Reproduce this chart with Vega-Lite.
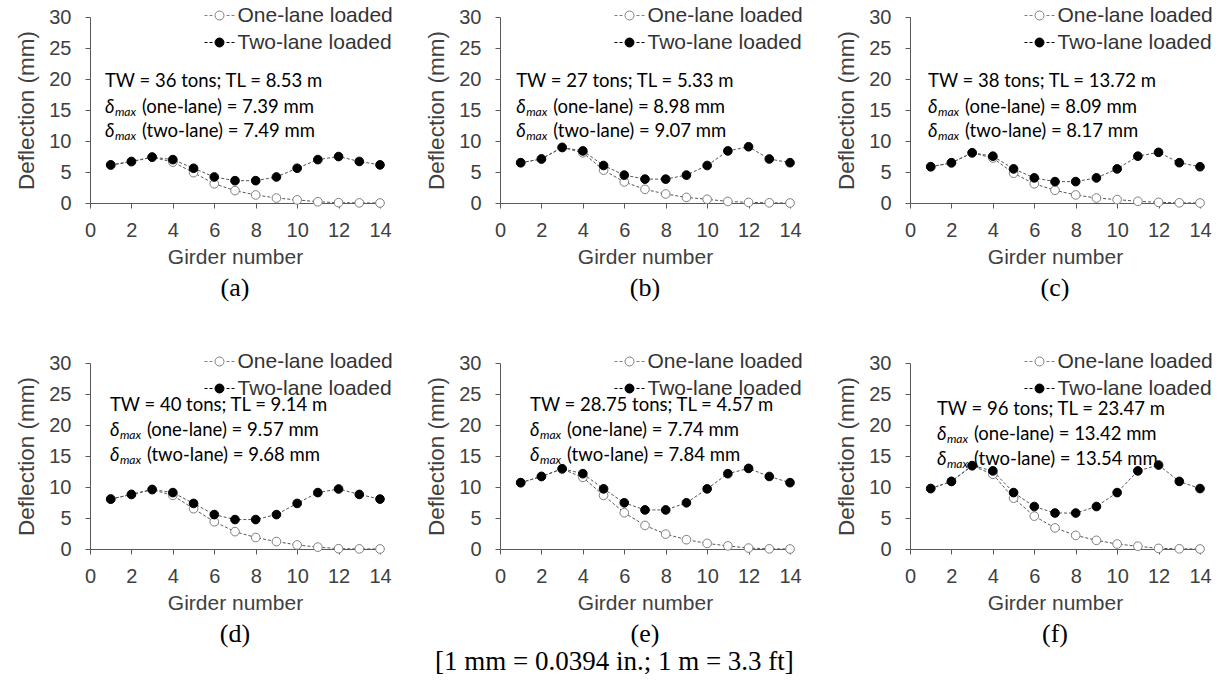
{
  "$schema": "https://vega.github.io/schema/vega-lite/v6.json",
  "background": "white",
  "padding": {"left": 15, "top": 5, "right": 5, "bottom": 5},
  "config": {
    "view": {"stroke": null},
    "axis": {"labelFont": "Liberation Sans", "labelFontSize": 20, "labelColor": "#404040", "titleFont": "Liberation Sans", "titleFontSize": 21, "titleFontWeight": "normal", "titleColor": "#404040", "domainColor": "#595959", "tickColor": "#595959", "tickSize": 5, "grid": false, "labelOverlap": false, "labelFlush": false, "labelBound": false},
    "axisX": {"labelPadding": 12, "titlePadding": 6, "tickCount": 8, "labelOverlap": false},
    "axisY": {"labelPadding": 14, "titlePadding": 10, "titleFontSize": 22.5, "tickCount": 7, "labelOverlap": false},
    "title": {"font": "Liberation Serif", "fontSize": 26, "fontWeight": "normal", "color": "black", "orient": "bottom", "offset": 8},
    "legend": {"title": null, "orient": "none", "legendX": 119, "legendY": -12, "symbolType": "M-1.5,0H-1.2M-1,0H-0.7M0.7,0H1M1.2,0H1.5M0.45,0A0.45,0.45,0,1,1,-0.45,0A0.45,0.45,0,1,1,0.45,0Z", "symbolSize": 400, "symbolStrokeWidth": 1, "labelFont": "Liberation Sans", "labelFontSize": 21, "labelColor": "#333333", "labelOffset": 7.5, "rowPadding": 5, "padding": 0}
  },
  "title": {"text": "[1 mm = 0.0394 in.; 1 m = 3.3 ft]", "orient": "bottom", "anchor": "middle", "font": "Liberation Serif", "fontSize": 27, "offset": 2},
  "datasets": {
    "pts": [
      {"panel":"a","series":"One-lane loaded","girder":1,"deflection":6.1},{"panel":"a","series":"One-lane loaded","girder":2,"deflection":6.65},{"panel":"a","series":"One-lane loaded","girder":3,"deflection":7.39},{"panel":"a","series":"One-lane loaded","girder":4,"deflection":6.6},{"panel":"a","series":"One-lane loaded","girder":5,"deflection":4.9},{"panel":"a","series":"One-lane loaded","girder":6,"deflection":3.1},{"panel":"a","series":"One-lane loaded","girder":7,"deflection":2.0},{"panel":"a","series":"One-lane loaded","girder":8,"deflection":1.3},{"panel":"a","series":"One-lane loaded","girder":9,"deflection":0.8},{"panel":"a","series":"One-lane loaded","girder":10,"deflection":0.5},{"panel":"a","series":"One-lane loaded","girder":11,"deflection":0.2},{"panel":"a","series":"One-lane loaded","girder":12,"deflection":0.05},{"panel":"a","series":"One-lane loaded","girder":13,"deflection":0.02},{"panel":"a","series":"One-lane loaded","girder":14,"deflection":0},
      {"panel":"a","series":"Two-lane loaded","girder":1,"deflection":6.15},{"panel":"a","series":"Two-lane loaded","girder":2,"deflection":6.7},{"panel":"a","series":"Two-lane loaded","girder":3,"deflection":7.4},{"panel":"a","series":"Two-lane loaded","girder":4,"deflection":7.0},{"panel":"a","series":"Two-lane loaded","girder":5,"deflection":5.6},{"panel":"a","series":"Two-lane loaded","girder":6,"deflection":4.2},{"panel":"a","series":"Two-lane loaded","girder":7,"deflection":3.6},{"panel":"a","series":"Two-lane loaded","girder":8,"deflection":3.6},{"panel":"a","series":"Two-lane loaded","girder":9,"deflection":4.2},{"panel":"a","series":"Two-lane loaded","girder":10,"deflection":5.6},{"panel":"a","series":"Two-lane loaded","girder":11,"deflection":7.0},{"panel":"a","series":"Two-lane loaded","girder":12,"deflection":7.49},{"panel":"a","series":"Two-lane loaded","girder":13,"deflection":6.7},{"panel":"a","series":"Two-lane loaded","girder":14,"deflection":6.15},
      {"panel":"b","series":"One-lane loaded","girder":1,"deflection":6.5},{"panel":"b","series":"One-lane loaded","girder":2,"deflection":7.1},{"panel":"b","series":"One-lane loaded","girder":3,"deflection":8.98},{"panel":"b","series":"One-lane loaded","girder":4,"deflection":8.1},{"panel":"b","series":"One-lane loaded","girder":5,"deflection":5.3},{"panel":"b","series":"One-lane loaded","girder":6,"deflection":3.4},{"panel":"b","series":"One-lane loaded","girder":7,"deflection":2.2},{"panel":"b","series":"One-lane loaded","girder":8,"deflection":1.45},{"panel":"b","series":"One-lane loaded","girder":9,"deflection":0.9},{"panel":"b","series":"One-lane loaded","girder":10,"deflection":0.6},{"panel":"b","series":"One-lane loaded","girder":11,"deflection":0.25},{"panel":"b","series":"One-lane loaded","girder":12,"deflection":0.1},{"panel":"b","series":"One-lane loaded","girder":13,"deflection":0.03},{"panel":"b","series":"One-lane loaded","girder":14,"deflection":0},
      {"panel":"b","series":"Two-lane loaded","girder":1,"deflection":6.5},{"panel":"b","series":"Two-lane loaded","girder":2,"deflection":7.1},{"panel":"b","series":"Two-lane loaded","girder":3,"deflection":8.95},{"panel":"b","series":"Two-lane loaded","girder":4,"deflection":8.4},{"panel":"b","series":"Two-lane loaded","girder":5,"deflection":6.05},{"panel":"b","series":"Two-lane loaded","girder":6,"deflection":4.5},{"panel":"b","series":"Two-lane loaded","girder":7,"deflection":3.85},{"panel":"b","series":"Two-lane loaded","girder":8,"deflection":3.85},{"panel":"b","series":"Two-lane loaded","girder":9,"deflection":4.5},{"panel":"b","series":"Two-lane loaded","girder":10,"deflection":6.05},{"panel":"b","series":"Two-lane loaded","girder":11,"deflection":8.4},{"panel":"b","series":"Two-lane loaded","girder":12,"deflection":9.07},{"panel":"b","series":"Two-lane loaded","girder":13,"deflection":7.1},{"panel":"b","series":"Two-lane loaded","girder":14,"deflection":6.5},
      {"panel":"c","series":"One-lane loaded","girder":1,"deflection":5.85},{"panel":"c","series":"One-lane loaded","girder":2,"deflection":6.45},{"panel":"c","series":"One-lane loaded","girder":3,"deflection":8.09},{"panel":"c","series":"One-lane loaded","girder":4,"deflection":7.25},{"panel":"c","series":"One-lane loaded","girder":5,"deflection":4.8},{"panel":"c","series":"One-lane loaded","girder":6,"deflection":3.1},{"panel":"c","series":"One-lane loaded","girder":7,"deflection":2.05},{"panel":"c","series":"One-lane loaded","girder":8,"deflection":1.3},{"panel":"c","series":"One-lane loaded","girder":9,"deflection":0.8},{"panel":"c","series":"One-lane loaded","girder":10,"deflection":0.55},{"panel":"c","series":"One-lane loaded","girder":11,"deflection":0.27},{"panel":"c","series":"One-lane loaded","girder":12,"deflection":0.1},{"panel":"c","series":"One-lane loaded","girder":13,"deflection":0.03},{"panel":"c","series":"One-lane loaded","girder":14,"deflection":0},
      {"panel":"c","series":"Two-lane loaded","girder":1,"deflection":5.85},{"panel":"c","series":"Two-lane loaded","girder":2,"deflection":6.5},{"panel":"c","series":"Two-lane loaded","girder":3,"deflection":8.1},{"panel":"c","series":"Two-lane loaded","girder":4,"deflection":7.55},{"panel":"c","series":"Two-lane loaded","girder":5,"deflection":5.5},{"panel":"c","series":"Two-lane loaded","girder":6,"deflection":4.05},{"panel":"c","series":"Two-lane loaded","girder":7,"deflection":3.45},{"panel":"c","series":"Two-lane loaded","girder":8,"deflection":3.45},{"panel":"c","series":"Two-lane loaded","girder":9,"deflection":4.05},{"panel":"c","series":"Two-lane loaded","girder":10,"deflection":5.5},{"panel":"c","series":"Two-lane loaded","girder":11,"deflection":7.55},{"panel":"c","series":"Two-lane loaded","girder":12,"deflection":8.17},{"panel":"c","series":"Two-lane loaded","girder":13,"deflection":6.5},{"panel":"c","series":"Two-lane loaded","girder":14,"deflection":5.85},
      {"panel":"d","series":"One-lane loaded","girder":1,"deflection":8.05},{"panel":"d","series":"One-lane loaded","girder":2,"deflection":8.8},{"panel":"d","series":"One-lane loaded","girder":3,"deflection":9.57},{"panel":"d","series":"One-lane loaded","girder":4,"deflection":8.65},{"panel":"d","series":"One-lane loaded","girder":5,"deflection":6.5},{"panel":"d","series":"One-lane loaded","girder":6,"deflection":4.4},{"panel":"d","series":"One-lane loaded","girder":7,"deflection":2.8},{"panel":"d","series":"One-lane loaded","girder":8,"deflection":1.85},{"panel":"d","series":"One-lane loaded","girder":9,"deflection":1.2},{"panel":"d","series":"One-lane loaded","girder":10,"deflection":0.65},{"panel":"d","series":"One-lane loaded","girder":11,"deflection":0.3},{"panel":"d","series":"One-lane loaded","girder":12,"deflection":0.05},{"panel":"d","series":"One-lane loaded","girder":13,"deflection":0.02},{"panel":"d","series":"One-lane loaded","girder":14,"deflection":0},
      {"panel":"d","series":"Two-lane loaded","girder":1,"deflection":8.05},{"panel":"d","series":"Two-lane loaded","girder":2,"deflection":8.8},{"panel":"d","series":"Two-lane loaded","girder":3,"deflection":9.6},{"panel":"d","series":"Two-lane loaded","girder":4,"deflection":9.1},{"panel":"d","series":"Two-lane loaded","girder":5,"deflection":7.35},{"panel":"d","series":"Two-lane loaded","girder":6,"deflection":5.55},{"panel":"d","series":"Two-lane loaded","girder":7,"deflection":4.75},{"panel":"d","series":"Two-lane loaded","girder":8,"deflection":4.75},{"panel":"d","series":"Two-lane loaded","girder":9,"deflection":5.55},{"panel":"d","series":"Two-lane loaded","girder":10,"deflection":7.35},{"panel":"d","series":"Two-lane loaded","girder":11,"deflection":9.1},{"panel":"d","series":"Two-lane loaded","girder":12,"deflection":9.68},{"panel":"d","series":"Two-lane loaded","girder":13,"deflection":8.8},{"panel":"d","series":"Two-lane loaded","girder":14,"deflection":8.05},
      {"panel":"e","series":"One-lane loaded","girder":1,"deflection":10.7},{"panel":"e","series":"One-lane loaded","girder":2,"deflection":11.7},{"panel":"e","series":"One-lane loaded","girder":3,"deflection":12.9},{"panel":"e","series":"One-lane loaded","girder":4,"deflection":11.55},{"panel":"e","series":"One-lane loaded","girder":5,"deflection":8.65},{"panel":"e","series":"One-lane loaded","girder":6,"deflection":5.85},{"panel":"e","series":"One-lane loaded","girder":7,"deflection":3.8},{"panel":"e","series":"One-lane loaded","girder":8,"deflection":2.4},{"panel":"e","series":"One-lane loaded","girder":9,"deflection":1.5},{"panel":"e","series":"One-lane loaded","girder":10,"deflection":0.9},{"panel":"e","series":"One-lane loaded","girder":11,"deflection":0.5},{"panel":"e","series":"One-lane loaded","girder":12,"deflection":0.15},{"panel":"e","series":"One-lane loaded","girder":13,"deflection":0.03},{"panel":"e","series":"One-lane loaded","girder":14,"deflection":0},
      {"panel":"e","series":"Two-lane loaded","girder":1,"deflection":10.7},{"panel":"e","series":"Two-lane loaded","girder":2,"deflection":11.7},{"panel":"e","series":"Two-lane loaded","girder":3,"deflection":12.95},{"panel":"e","series":"Two-lane loaded","girder":4,"deflection":12.15},{"panel":"e","series":"Two-lane loaded","girder":5,"deflection":9.7},{"panel":"e","series":"Two-lane loaded","girder":6,"deflection":7.45},{"panel":"e","series":"Two-lane loaded","girder":7,"deflection":6.3},{"panel":"e","series":"Two-lane loaded","girder":8,"deflection":6.3},{"panel":"e","series":"Two-lane loaded","girder":9,"deflection":7.45},{"panel":"e","series":"Two-lane loaded","girder":10,"deflection":9.7},{"panel":"e","series":"Two-lane loaded","girder":11,"deflection":12.15},{"panel":"e","series":"Two-lane loaded","girder":12,"deflection":13.0},{"panel":"e","series":"Two-lane loaded","girder":13,"deflection":11.7},{"panel":"e","series":"Two-lane loaded","girder":14,"deflection":10.7},
      {"panel":"f","series":"One-lane loaded","girder":1,"deflection":9.75},{"panel":"f","series":"One-lane loaded","girder":2,"deflection":10.9},{"panel":"f","series":"One-lane loaded","girder":3,"deflection":13.42},{"panel":"f","series":"One-lane loaded","girder":4,"deflection":12.05},{"panel":"f","series":"One-lane loaded","girder":5,"deflection":8.2},{"panel":"f","series":"One-lane loaded","girder":6,"deflection":5.3},{"panel":"f","series":"One-lane loaded","girder":7,"deflection":3.4},{"panel":"f","series":"One-lane loaded","girder":8,"deflection":2.2},{"panel":"f","series":"One-lane loaded","girder":9,"deflection":1.4},{"panel":"f","series":"One-lane loaded","girder":10,"deflection":0.8},{"panel":"f","series":"One-lane loaded","girder":11,"deflection":0.45},{"panel":"f","series":"One-lane loaded","girder":12,"deflection":0.1},{"panel":"f","series":"One-lane loaded","girder":13,"deflection":0.03},{"panel":"f","series":"One-lane loaded","girder":14,"deflection":0},
      {"panel":"f","series":"Two-lane loaded","girder":1,"deflection":9.75},{"panel":"f","series":"Two-lane loaded","girder":2,"deflection":10.9},{"panel":"f","series":"Two-lane loaded","girder":3,"deflection":13.45},{"panel":"f","series":"Two-lane loaded","girder":4,"deflection":12.6},{"panel":"f","series":"Two-lane loaded","girder":5,"deflection":9.1},{"panel":"f","series":"Two-lane loaded","girder":6,"deflection":6.85},{"panel":"f","series":"Two-lane loaded","girder":7,"deflection":5.8},{"panel":"f","series":"Two-lane loaded","girder":8,"deflection":5.8},{"panel":"f","series":"Two-lane loaded","girder":9,"deflection":6.85},{"panel":"f","series":"Two-lane loaded","girder":10,"deflection":9.1},{"panel":"f","series":"Two-lane loaded","girder":11,"deflection":12.6},{"panel":"f","series":"Two-lane loaded","girder":12,"deflection":13.54},{"panel":"f","series":"Two-lane loaded","girder":13,"deflection":10.9},{"panel":"f","series":"Two-lane loaded","girder":14,"deflection":9.75}
    ],
    "notes": [
      {"panel":"a","l1":"TW = 36 tons; TL = 8.53 m","l23":["(one-lane) = 7.39 mm","(two-lane) = 7.49 mm"]},
      {"panel":"b","l1":"TW = 27 tons; TL = 5.33 m","l23":["(one-lane) = 8.98 mm","(two-lane) = 9.07 mm"]},
      {"panel":"c","l1":"TW = 38 tons; TL = 13.72 m","l23":["(one-lane) = 8.09 mm","(two-lane) = 8.17 mm"]},
      {"panel":"d","l1":"TW = 40 tons; TL = 9.14 m","l23":["(one-lane) = 9.57 mm","(two-lane) = 9.68 mm"]},
      {"panel":"e","l1":"TW = 28.75 tons; TL = 4.57 m","l23":["(one-lane) = 7.74 mm","(two-lane) = 7.84 mm"]},
      {"panel":"f","l1":"TW = 96 tons; TL = 23.47 m","l23":["(one-lane) = 13.42 mm","(two-lane) = 13.54 mm"]}
    ]
  },
  "columns": 3,
  "spacing": {"row": 160, "column": 120},
  "bounds": "flush",
  "resolve": {"scale": {"fill": "independent", "stroke": "independent"}, "legend": {"fill": "independent", "stroke": "independent"}},
  "concat": [
    {"width": 290, "height": 186, "title": {"text": "(a)", "orient": "bottom"},
     "layer": [
      {"data": {"name": "pts"}, "transform": [{"filter": "datum.panel === 'a'"}], "mark": {"type": "line", "strokeDash": [3, 2], "strokeWidth": 1, "color": "#555555"},
       "encoding": {"x": {"field": "girder", "type": "quantitative", "title": "Girder number", "scale": {"domain": [0, 14], "nice": false}, "axis": {"values": [0, 2, 4, 6, 8, 10, 12, 14], "tickCount": 8, "labelOverlap": false}}, "y": {"field": "deflection", "type": "quantitative", "title": "Deflection (mm)", "scale": {"domain": [0, 30], "nice": false}, "axis": {"values": [0, 5, 10, 15, 20, 25, 30], "tickCount": 7, "labelOverlap": false}}, "detail": {"field": "series", "type": "nominal"}}},
      {"data": {"name": "pts"}, "transform": [{"filter": "datum.panel === 'a'"}], "mark": {"type": "point", "shape": "circle", "filled": true, "size": 75, "strokeWidth": 1, "opacity": 1},
       "encoding": {"x": {"field": "girder", "type": "quantitative"}, "y": {"field": "deflection", "type": "quantitative"},
        "fill": {"field": "series", "type": "nominal", "scale": {"domain": ["One-lane loaded", "Two-lane loaded"], "range": ["white", "black"]}, "legend": {"orient": "none", "legendX": 119, "legendY": -12}},
        "stroke": {"field": "series", "type": "nominal", "scale": {"domain": ["One-lane loaded", "Two-lane loaded"], "range": ["#7f7f7f", "black"]}, "legend": {"orient": "none", "legendX": 119, "legendY": -12}}}},
      {"data": {"name": "notes"}, "transform": [{"filter": "datum.panel === 'a'"}], "mark": {"type": "text", "font": "Lato", "fontSize": 18.5, "align": "left", "baseline": "alphabetic", "color": "black"},
       "encoding": {"x": {"datum": 0.72, "type": "quantitative"}, "y": {"datum": 18.7, "type": "quantitative"}, "text": {"field": "l1", "type": "nominal"}}},
      {"data": {"name": "notes"}, "transform": [{"filter": "datum.panel === 'a'"}], "mark": {"type": "text", "text": ["δ", "δ"], "lineHeight": 24, "font": "Lato", "fontStyle": "italic", "fontSize": 18.5, "align": "left", "baseline": "alphabetic", "color": "black"},
       "encoding": {"x": {"datum": 0.72, "type": "quantitative"}, "y": {"datum": 14.5, "type": "quantitative"}}},
      {"data": {"name": "notes"}, "transform": [{"filter": "datum.panel === 'a'"}], "mark": {"type": "text", "text": ["max", "max"], "lineHeight": 24, "font": "Lato", "fontStyle": "italic", "fontSize": 12, "dx": 10, "dy": 3, "align": "left", "baseline": "alphabetic", "color": "black"},
       "encoding": {"x": {"datum": 0.72, "type": "quantitative"}, "y": {"datum": 14.5, "type": "quantitative"}}},
      {"data": {"name": "notes"}, "transform": [{"filter": "datum.panel === 'a'"}], "mark": {"type": "text", "lineHeight": 24, "font": "Lato", "fontSize": 18.5, "dx": 37, "align": "left", "baseline": "alphabetic", "color": "black"},
       "encoding": {"x": {"datum": 0.72, "type": "quantitative"}, "y": {"datum": 14.5, "type": "quantitative"}, "text": {"field": "l23", "type": "nominal"}}}
     ]},
    {"width": 290, "height": 186, "title": {"text": "(b)", "orient": "bottom"},
     "layer": [
      {"data": {"name": "pts"}, "transform": [{"filter": "datum.panel === 'b'"}], "mark": {"type": "line", "strokeDash": [3, 2], "strokeWidth": 1, "color": "#555555"},
       "encoding": {"x": {"field": "girder", "type": "quantitative", "title": "Girder number", "scale": {"domain": [0, 14], "nice": false}, "axis": {"values": [0, 2, 4, 6, 8, 10, 12, 14], "tickCount": 8, "labelOverlap": false}}, "y": {"field": "deflection", "type": "quantitative", "title": "Deflection (mm)", "scale": {"domain": [0, 30], "nice": false}, "axis": {"values": [0, 5, 10, 15, 20, 25, 30], "tickCount": 7, "labelOverlap": false}}, "detail": {"field": "series", "type": "nominal"}}},
      {"data": {"name": "pts"}, "transform": [{"filter": "datum.panel === 'b'"}], "mark": {"type": "point", "shape": "circle", "filled": true, "size": 75, "strokeWidth": 1, "opacity": 1},
       "encoding": {"x": {"field": "girder", "type": "quantitative"}, "y": {"field": "deflection", "type": "quantitative"},
        "fill": {"field": "series", "type": "nominal", "scale": {"domain": ["One-lane loaded", "Two-lane loaded"], "range": ["white", "black"]}, "legend": {"orient": "none", "legendX": 119, "legendY": -12}},
        "stroke": {"field": "series", "type": "nominal", "scale": {"domain": ["One-lane loaded", "Two-lane loaded"], "range": ["#7f7f7f", "black"]}, "legend": {"orient": "none", "legendX": 119, "legendY": -12}}}},
      {"data": {"name": "notes"}, "transform": [{"filter": "datum.panel === 'b'"}], "mark": {"type": "text", "font": "Lato", "fontSize": 18.5, "align": "left", "baseline": "alphabetic", "color": "black"},
       "encoding": {"x": {"datum": 0.78, "type": "quantitative"}, "y": {"datum": 18.7, "type": "quantitative"}, "text": {"field": "l1", "type": "nominal"}}},
      {"data": {"name": "notes"}, "transform": [{"filter": "datum.panel === 'b'"}], "mark": {"type": "text", "text": ["δ", "δ"], "lineHeight": 24, "font": "Lato", "fontStyle": "italic", "fontSize": 18.5, "align": "left", "baseline": "alphabetic", "color": "black"},
       "encoding": {"x": {"datum": 0.78, "type": "quantitative"}, "y": {"datum": 14.5, "type": "quantitative"}}},
      {"data": {"name": "notes"}, "transform": [{"filter": "datum.panel === 'b'"}], "mark": {"type": "text", "text": ["max", "max"], "lineHeight": 24, "font": "Lato", "fontStyle": "italic", "fontSize": 12, "dx": 10, "dy": 3, "align": "left", "baseline": "alphabetic", "color": "black"},
       "encoding": {"x": {"datum": 0.78, "type": "quantitative"}, "y": {"datum": 14.5, "type": "quantitative"}}},
      {"data": {"name": "notes"}, "transform": [{"filter": "datum.panel === 'b'"}], "mark": {"type": "text", "lineHeight": 24, "font": "Lato", "fontSize": 18.5, "dx": 37, "align": "left", "baseline": "alphabetic", "color": "black"},
       "encoding": {"x": {"datum": 0.78, "type": "quantitative"}, "y": {"datum": 14.5, "type": "quantitative"}, "text": {"field": "l23", "type": "nominal"}}}
     ]},
    {"width": 290, "height": 186, "title": {"text": "(c)", "orient": "bottom"},
     "layer": [
      {"data": {"name": "pts"}, "transform": [{"filter": "datum.panel === 'c'"}], "mark": {"type": "line", "strokeDash": [3, 2], "strokeWidth": 1, "color": "#555555"},
       "encoding": {"x": {"field": "girder", "type": "quantitative", "title": "Girder number", "scale": {"domain": [0, 14], "nice": false}, "axis": {"values": [0, 2, 4, 6, 8, 10, 12, 14], "tickCount": 8, "labelOverlap": false}}, "y": {"field": "deflection", "type": "quantitative", "title": "Deflection (mm)", "scale": {"domain": [0, 30], "nice": false}, "axis": {"values": [0, 5, 10, 15, 20, 25, 30], "tickCount": 7, "labelOverlap": false}}, "detail": {"field": "series", "type": "nominal"}}},
      {"data": {"name": "pts"}, "transform": [{"filter": "datum.panel === 'c'"}], "mark": {"type": "point", "shape": "circle", "filled": true, "size": 75, "strokeWidth": 1, "opacity": 1},
       "encoding": {"x": {"field": "girder", "type": "quantitative"}, "y": {"field": "deflection", "type": "quantitative"},
        "fill": {"field": "series", "type": "nominal", "scale": {"domain": ["One-lane loaded", "Two-lane loaded"], "range": ["white", "black"]}, "legend": {"orient": "none", "legendX": 119, "legendY": -12}},
        "stroke": {"field": "series", "type": "nominal", "scale": {"domain": ["One-lane loaded", "Two-lane loaded"], "range": ["#7f7f7f", "black"]}, "legend": {"orient": "none", "legendX": 119, "legendY": -12}}}},
      {"data": {"name": "notes"}, "transform": [{"filter": "datum.panel === 'c'"}], "mark": {"type": "text", "font": "Lato", "fontSize": 18.5, "align": "left", "baseline": "alphabetic", "color": "black"},
       "encoding": {"x": {"datum": 0.87, "type": "quantitative"}, "y": {"datum": 18.7, "type": "quantitative"}, "text": {"field": "l1", "type": "nominal"}}},
      {"data": {"name": "notes"}, "transform": [{"filter": "datum.panel === 'c'"}], "mark": {"type": "text", "text": ["δ", "δ"], "lineHeight": 24, "font": "Lato", "fontStyle": "italic", "fontSize": 18.5, "align": "left", "baseline": "alphabetic", "color": "black"},
       "encoding": {"x": {"datum": 0.87, "type": "quantitative"}, "y": {"datum": 14.5, "type": "quantitative"}}},
      {"data": {"name": "notes"}, "transform": [{"filter": "datum.panel === 'c'"}], "mark": {"type": "text", "text": ["max", "max"], "lineHeight": 24, "font": "Lato", "fontStyle": "italic", "fontSize": 12, "dx": 10, "dy": 3, "align": "left", "baseline": "alphabetic", "color": "black"},
       "encoding": {"x": {"datum": 0.87, "type": "quantitative"}, "y": {"datum": 14.5, "type": "quantitative"}}},
      {"data": {"name": "notes"}, "transform": [{"filter": "datum.panel === 'c'"}], "mark": {"type": "text", "lineHeight": 24, "font": "Lato", "fontSize": 18.5, "dx": 37, "align": "left", "baseline": "alphabetic", "color": "black"},
       "encoding": {"x": {"datum": 0.87, "type": "quantitative"}, "y": {"datum": 14.5, "type": "quantitative"}, "text": {"field": "l23", "type": "nominal"}}}
     ]},
    {"width": 290, "height": 186, "title": {"text": "(d)", "orient": "bottom"},
     "layer": [
      {"data": {"name": "pts"}, "transform": [{"filter": "datum.panel === 'd'"}], "mark": {"type": "line", "strokeDash": [3, 2], "strokeWidth": 1, "color": "#555555"},
       "encoding": {"x": {"field": "girder", "type": "quantitative", "title": "Girder number", "scale": {"domain": [0, 14], "nice": false}, "axis": {"values": [0, 2, 4, 6, 8, 10, 12, 14], "tickCount": 8, "labelOverlap": false}}, "y": {"field": "deflection", "type": "quantitative", "title": "Deflection (mm)", "scale": {"domain": [0, 30], "nice": false}, "axis": {"values": [0, 5, 10, 15, 20, 25, 30], "tickCount": 7, "labelOverlap": false}}, "detail": {"field": "series", "type": "nominal"}}},
      {"data": {"name": "pts"}, "transform": [{"filter": "datum.panel === 'd'"}], "mark": {"type": "point", "shape": "circle", "filled": true, "size": 75, "strokeWidth": 1, "opacity": 1},
       "encoding": {"x": {"field": "girder", "type": "quantitative"}, "y": {"field": "deflection", "type": "quantitative"},
        "fill": {"field": "series", "type": "nominal", "scale": {"domain": ["One-lane loaded", "Two-lane loaded"], "range": ["white", "black"]}, "legend": {"orient": "none", "legendX": 119, "legendY": -12}},
        "stroke": {"field": "series", "type": "nominal", "scale": {"domain": ["One-lane loaded", "Two-lane loaded"], "range": ["#7f7f7f", "black"]}, "legend": {"orient": "none", "legendX": 119, "legendY": -12}}}},
      {"data": {"name": "notes"}, "transform": [{"filter": "datum.panel === 'd'"}], "mark": {"type": "text", "font": "Lato", "fontSize": 18.5, "align": "left", "baseline": "alphabetic", "color": "black"},
       "encoding": {"x": {"datum": 0.96, "type": "quantitative"}, "y": {"datum": 22.3, "type": "quantitative"}, "text": {"field": "l1", "type": "nominal"}}},
      {"data": {"name": "notes"}, "transform": [{"filter": "datum.panel === 'd'"}], "mark": {"type": "text", "text": ["δ", "δ"], "lineHeight": 25, "font": "Lato", "fontStyle": "italic", "fontSize": 18.5, "align": "left", "baseline": "alphabetic", "color": "black"},
       "encoding": {"x": {"datum": 0.96, "type": "quantitative"}, "y": {"datum": 18.3, "type": "quantitative"}}},
      {"data": {"name": "notes"}, "transform": [{"filter": "datum.panel === 'd'"}], "mark": {"type": "text", "text": ["max", "max"], "lineHeight": 25, "font": "Lato", "fontStyle": "italic", "fontSize": 12, "dx": 10, "dy": 3, "align": "left", "baseline": "alphabetic", "color": "black"},
       "encoding": {"x": {"datum": 0.96, "type": "quantitative"}, "y": {"datum": 18.3, "type": "quantitative"}}},
      {"data": {"name": "notes"}, "transform": [{"filter": "datum.panel === 'd'"}], "mark": {"type": "text", "lineHeight": 25, "font": "Lato", "fontSize": 18.5, "dx": 37, "align": "left", "baseline": "alphabetic", "color": "black"},
       "encoding": {"x": {"datum": 0.96, "type": "quantitative"}, "y": {"datum": 18.3, "type": "quantitative"}, "text": {"field": "l23", "type": "nominal"}}}
     ]},
    {"width": 290, "height": 186, "title": {"text": "(e)", "orient": "bottom"},
     "layer": [
      {"data": {"name": "pts"}, "transform": [{"filter": "datum.panel === 'e'"}], "mark": {"type": "line", "strokeDash": [3, 2], "strokeWidth": 1, "color": "#555555"},
       "encoding": {"x": {"field": "girder", "type": "quantitative", "title": "Girder number", "scale": {"domain": [0, 14], "nice": false}, "axis": {"values": [0, 2, 4, 6, 8, 10, 12, 14], "tickCount": 8, "labelOverlap": false}}, "y": {"field": "deflection", "type": "quantitative", "title": "Deflection (mm)", "scale": {"domain": [0, 30], "nice": false}, "axis": {"values": [0, 5, 10, 15, 20, 25, 30], "tickCount": 7, "labelOverlap": false}}, "detail": {"field": "series", "type": "nominal"}}},
      {"data": {"name": "pts"}, "transform": [{"filter": "datum.panel === 'e'"}], "mark": {"type": "point", "shape": "circle", "filled": true, "size": 75, "strokeWidth": 1, "opacity": 1},
       "encoding": {"x": {"field": "girder", "type": "quantitative"}, "y": {"field": "deflection", "type": "quantitative"},
        "fill": {"field": "series", "type": "nominal", "scale": {"domain": ["One-lane loaded", "Two-lane loaded"], "range": ["white", "black"]}, "legend": {"orient": "none", "legendX": 119, "legendY": -12}},
        "stroke": {"field": "series", "type": "nominal", "scale": {"domain": ["One-lane loaded", "Two-lane loaded"], "range": ["#7f7f7f", "black"]}, "legend": {"orient": "none", "legendX": 119, "legendY": -12}}}},
      {"data": {"name": "notes"}, "transform": [{"filter": "datum.panel === 'e'"}], "mark": {"type": "text", "font": "Lato", "fontSize": 18.5, "align": "left", "baseline": "alphabetic", "color": "black"},
       "encoding": {"x": {"datum": 1.45, "type": "quantitative"}, "y": {"datum": 22.3, "type": "quantitative"}, "text": {"field": "l1", "type": "nominal"}}},
      {"data": {"name": "notes"}, "transform": [{"filter": "datum.panel === 'e'"}], "mark": {"type": "text", "text": ["δ", "δ"], "lineHeight": 25, "font": "Lato", "fontStyle": "italic", "fontSize": 18.5, "align": "left", "baseline": "alphabetic", "color": "black"},
       "encoding": {"x": {"datum": 1.45, "type": "quantitative"}, "y": {"datum": 18.3, "type": "quantitative"}}},
      {"data": {"name": "notes"}, "transform": [{"filter": "datum.panel === 'e'"}], "mark": {"type": "text", "text": ["max", "max"], "lineHeight": 25, "font": "Lato", "fontStyle": "italic", "fontSize": 12, "dx": 10, "dy": 3, "align": "left", "baseline": "alphabetic", "color": "black"},
       "encoding": {"x": {"datum": 1.45, "type": "quantitative"}, "y": {"datum": 18.3, "type": "quantitative"}}},
      {"data": {"name": "notes"}, "transform": [{"filter": "datum.panel === 'e'"}], "mark": {"type": "text", "lineHeight": 25, "font": "Lato", "fontSize": 18.5, "dx": 37, "align": "left", "baseline": "alphabetic", "color": "black"},
       "encoding": {"x": {"datum": 1.45, "type": "quantitative"}, "y": {"datum": 18.3, "type": "quantitative"}, "text": {"field": "l23", "type": "nominal"}}}
     ]},
    {"width": 290, "height": 186, "title": {"text": "(f)", "orient": "bottom"},
     "layer": [
      {"data": {"name": "pts"}, "transform": [{"filter": "datum.panel === 'f'"}], "mark": {"type": "line", "strokeDash": [3, 2], "strokeWidth": 1, "color": "#555555"},
       "encoding": {"x": {"field": "girder", "type": "quantitative", "title": "Girder number", "scale": {"domain": [0, 14], "nice": false}, "axis": {"values": [0, 2, 4, 6, 8, 10, 12, 14], "tickCount": 8, "labelOverlap": false}}, "y": {"field": "deflection", "type": "quantitative", "title": "Deflection (mm)", "scale": {"domain": [0, 30], "nice": false}, "axis": {"values": [0, 5, 10, 15, 20, 25, 30], "tickCount": 7, "labelOverlap": false}}, "detail": {"field": "series", "type": "nominal"}}},
      {"data": {"name": "pts"}, "transform": [{"filter": "datum.panel === 'f'"}], "mark": {"type": "point", "shape": "circle", "filled": true, "size": 75, "strokeWidth": 1, "opacity": 1},
       "encoding": {"x": {"field": "girder", "type": "quantitative"}, "y": {"field": "deflection", "type": "quantitative"},
        "fill": {"field": "series", "type": "nominal", "scale": {"domain": ["One-lane loaded", "Two-lane loaded"], "range": ["white", "black"]}, "legend": {"orient": "none", "legendX": 119, "legendY": -12}},
        "stroke": {"field": "series", "type": "nominal", "scale": {"domain": ["One-lane loaded", "Two-lane loaded"], "range": ["#7f7f7f", "black"]}, "legend": {"orient": "none", "legendX": 119, "legendY": -12}}}},
      {"data": {"name": "notes"}, "transform": [{"filter": "datum.panel === 'f'"}], "mark": {"type": "text", "font": "Lato", "fontSize": 18.5, "align": "left", "baseline": "alphabetic", "color": "black"},
       "encoding": {"x": {"datum": 1.3, "type": "quantitative"}, "y": {"datum": 21.6, "type": "quantitative"}, "text": {"field": "l1", "type": "nominal"}}},
      {"data": {"name": "notes"}, "transform": [{"filter": "datum.panel === 'f'"}], "mark": {"type": "text", "text": ["δ", "δ"], "lineHeight": 25, "font": "Lato", "fontStyle": "italic", "fontSize": 18.5, "align": "left", "baseline": "alphabetic", "color": "black"},
       "encoding": {"x": {"datum": 1.3, "type": "quantitative"}, "y": {"datum": 17.6, "type": "quantitative"}}},
      {"data": {"name": "notes"}, "transform": [{"filter": "datum.panel === 'f'"}], "mark": {"type": "text", "text": ["max", "max"], "lineHeight": 25, "font": "Lato", "fontStyle": "italic", "fontSize": 12, "dx": 10, "dy": 3, "align": "left", "baseline": "alphabetic", "color": "black"},
       "encoding": {"x": {"datum": 1.3, "type": "quantitative"}, "y": {"datum": 17.6, "type": "quantitative"}}},
      {"data": {"name": "notes"}, "transform": [{"filter": "datum.panel === 'f'"}], "mark": {"type": "text", "lineHeight": 25, "font": "Lato", "fontSize": 18.5, "dx": 37, "align": "left", "baseline": "alphabetic", "color": "black"},
       "encoding": {"x": {"datum": 1.3, "type": "quantitative"}, "y": {"datum": 17.6, "type": "quantitative"}, "text": {"field": "l23", "type": "nominal"}}}
     ]}
  ]
}
